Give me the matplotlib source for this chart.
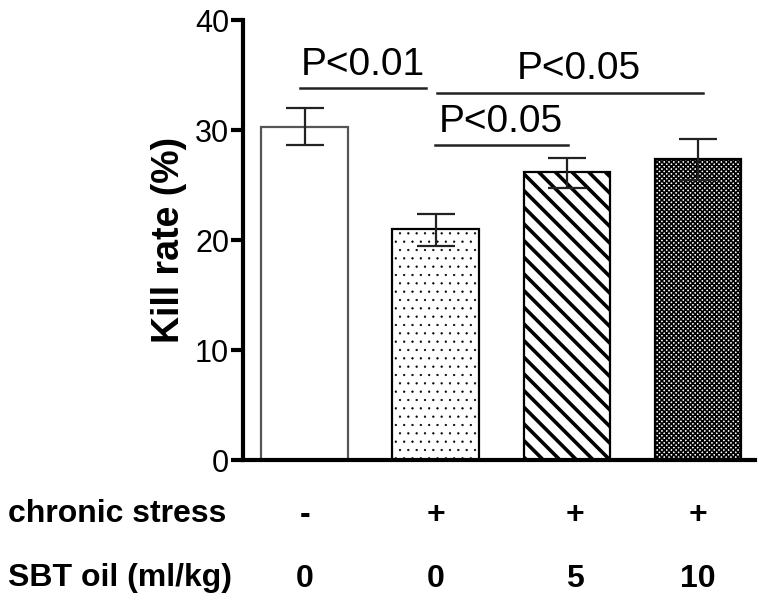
import matplotlib
matplotlib.use("Agg")
import matplotlib.pyplot as plt
import numpy as np

plt.rcParams['font.family'] = ['Liberation Sans', 'DejaVu Sans']

groups = ["ctrl", "stress", "stress+SBT5", "stress+SBT10"]
kill_rate = [30.3, 21.0, 26.2, 27.4]
err_low = [28.6, 19.5, 24.7, 25.5]
err_high = [32.0, 22.4, 27.5, 29.2]
stress_labels = ["-", "+", "+", "+"]
sbt_labels = ["0", "0", "5", "10"]
hatches = ["", "..", "\\\\", "xxxxxxx"]
edgecolors = ["#555555", "black", "black", "black"]
sig_text = ["P<0.01", "P<0.05", "P<0.05"]
sig_y = [33.8, 33.4, 28.6]
sig_x = [(-0.034, 0.927), (1.01, 3.04), (0.996, 2.01)]
sig_text_x = [0.44, 2.09, 1.50]
yticks = [0, 10, 20, 30, 40]

fig = plt.figure(figsize=(7.61, 6.02), dpi=100)
ax = fig.add_axes([243/761, (602-460)/602, (755-243)/761, 440/602])

x = np.arange(len(groups))
hlw = [1.0, 0.4, 2.6, 1.2]
for i in range(len(groups)):
    with plt.rc_context({'hatch.linewidth': hlw[i], 'hatch.color': 'black'}):
        b = ax.bar(x[i], kill_rate[i], width=0.66, facecolor='white',
                   edgecolor=edgecolors[i], linewidth=1.6, hatch=hatches[i], zorder=2)
        for p in b:
            if hasattr(p, 'set_hatch_linewidth'):
                p.set_hatch_linewidth(hlw[i])
    ax.errorbar(x[i], kill_rate[i],
                yerr=[[kill_rate[i]-err_low[i]], [err_high[i]-kill_rate[i]]],
                fmt='none', ecolor='#222222', elinewidth=1.6, capsize=14, capthick=1.6, zorder=3)

for t, yv, (x0, x1), tx in zip(sig_text, sig_y, sig_x, sig_text_x):
    ax.plot([x0, x1], [yv, yv], color='#222222', lw=1.8, clip_on=False)
    ax.text(tx, yv + 1.2, t, ha='center', va='baseline', fontsize=28)

ax.set_xlim(-0.47, 3.435)
ax.set_ylim(0, 40)
ax.set_yticks(yticks)
ax.set_yticklabels([str(v) for v in yticks], fontsize=22)
ax.set_xticks([])
for s in ['top', 'right']:
    ax.spines[s].set_visible(False)
ax.spines['left'].set_linewidth(3)
ax.spines['bottom'].set_linewidth(3)
ax.tick_params(axis='y', direction='out', length=9, width=3, pad=1)
ax.set_ylabel("Kill rate (%)", fontsize=27, fontweight='bold', labelpad=6)

trans = ax.get_xaxis_transform()
for i in range(len(groups)):
    ax.text(x[i] + (0.06 if i == 2 else 0.0), -0.124, stress_labels[i], transform=trans,
            ha='center', va='center', fontsize=23, fontweight='bold')
    ax.text(x[i] + (0.06 if i == 2 else 0.0), -0.27, sbt_labels[i], transform=trans,
            ha='center', va='center', fontsize=23, fontweight='bold')
fig.text(8/761, 1 - 514/602, "chronic stress", ha='left', va='center', fontsize=23, fontweight='bold')
fig.text(8/761, 1 - 578/602, "SBT oil (ml/kg)", ha='left', va='center', fontsize=23, fontweight='bold')

fig.savefig("out.png", dpi=100)
